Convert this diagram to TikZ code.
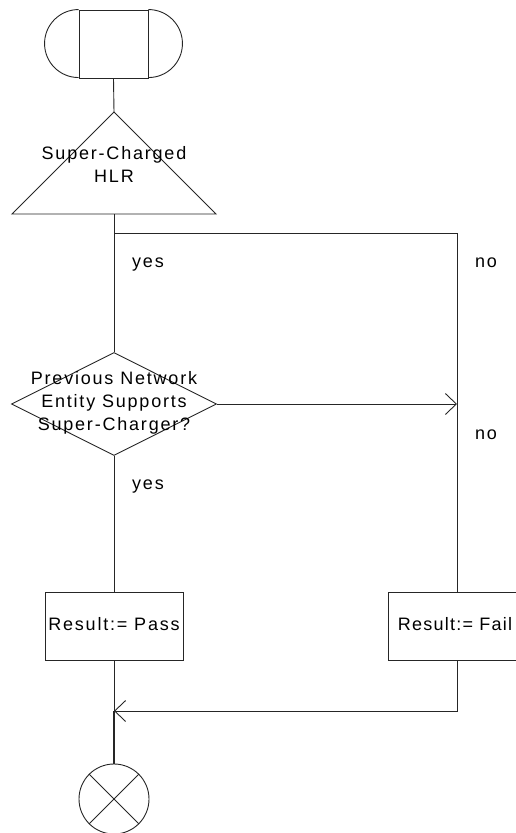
\documentclass[tikz,border=0pt]{standalone}
\usepackage{fontspec}
\setmainfont{Liberation Sans}[LetterSpace=10]
\usetikzlibrary{arrows.meta,shapes.geometric}
\begin{document}
\begin{tikzpicture}[x=1pt,y=-1pt,
  line/.style={draw=black!85,line width=0.9pt},
  txt/.style={font=\fontsize{18}{23}\selectfont,align=center,inner sep=0pt},
  lbl/.style={font=\fontsize{18}{23}\selectfont,inner sep=0pt,anchor=base west},
  boxnode/.style={line,rectangle,minimum width=138pt,minimum height=68pt,inner sep=0pt},
  arr/.style={line,-{Straight Barb[length=11pt,width=21pt,line width=0.9pt]}}]
\useasboundingbox (0,0) rectangle (515,833);
% start terminator
\node[line,rectangle,minimum width=69pt,minimum height=68pt,inner sep=0pt] (start) at (113.5,44) {};
\draw[line] (start.north west) arc[start angle=90,end angle=270,radius=34pt];
\draw[line] (start.north east) arc[start angle=90,end angle=-90,radius=34pt];
% triangle
\coordinate (tritop) at (114,112);
\coordinate (tribot) at (114,214);
\draw[line] (tritop) -- (216,214) -- (12,214) -- cycle;
\node[txt] (hlr) at (114,164) {Super-Charged\\HLR};
% decision
\node[line,diamond,minimum width=205pt,minimum height=103pt,inner sep=0pt] (dec) at (114,404) {};
\node[txt] (dectxt) at (114,403) {Previous Network\\Entity Supports\\Super-Charger?};
% result boxes
\node[boxnode] (pass) at (114,626) {};
\node[txt] (passtxt) at (114,624) {Result:= Pass};
\node[boxnode] (fail) at (457,626) {};
\node[txt,font=\fontsize{18}{23}\selectfont\addfontfeatures{LetterSpace=7}] (failtxt) at (455,624) {Result:= Fail};
% end
\node[line,circle,minimum size=70pt,inner sep=0pt] (stop) at (114,799) {};
\draw[line] (stop.north west) -- (stop.south east);
\draw[line] (stop.north east) -- (stop.south west);
% junction coordinates
\coordinate (j1) at (114,233);
\coordinate (j2) at (457,233);
\coordinate (j3) at (457,404);
\coordinate (j4) at (457,711);
\coordinate (j5) at (114,711);
% connectors
\draw[line] (start.south) -- (tritop);
\draw[line] (tribot) -- (dec.north);
\draw[line] (j1) -- (j2) -- (fail.north);
\draw[arr] (dec.east) -- (j3);
\draw[line] (dec.south) -- (pass.north);
\draw[line] (pass.south) -- (j5);
\draw[line,line width=1.5pt] (j5) -- (stop.north);
\draw[arr] (fail.south) |- (j5);
% labels
\node[lbl] (yes1) at (132,267) {yes};
\node[lbl] (no1) at (475,267) {no};
\node[lbl] (no2) at (475,439) {no};
\node[lbl] (yes2) at (132,489) {yes};
\end{tikzpicture}
\end{document}
